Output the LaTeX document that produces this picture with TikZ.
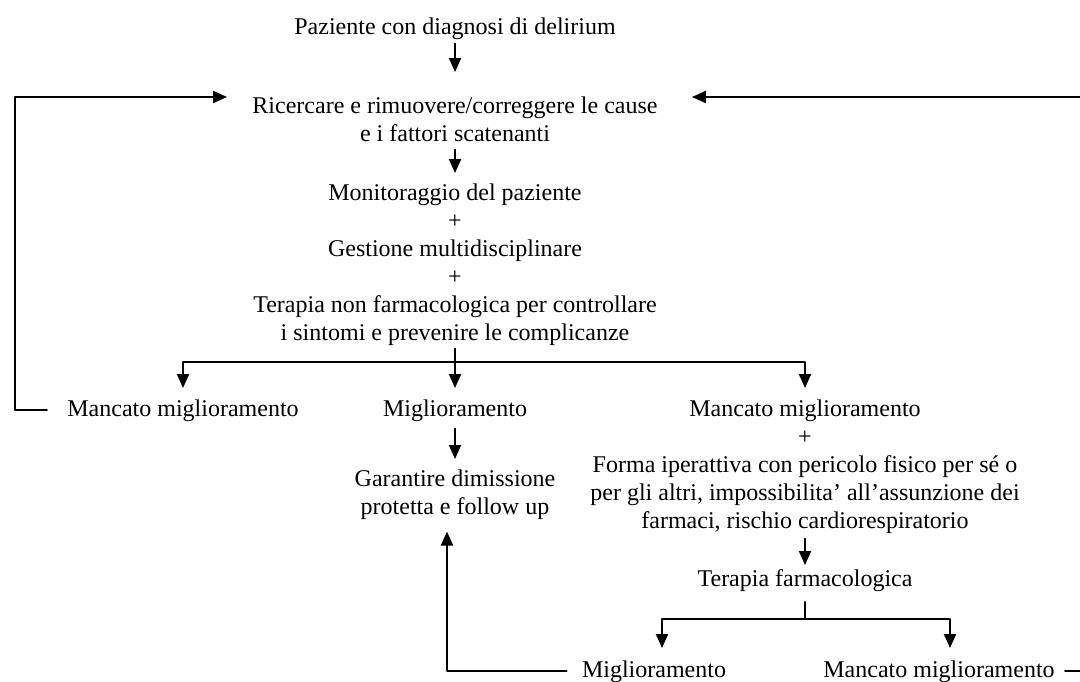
\documentclass[tikz,border=0pt]{standalone}
\usepackage{fontspec}
\setmainfont{Liberation Serif}
\usetikzlibrary{arrows.meta}
\usetikzlibrary{calc}

\begin{document}
\begin{tikzpicture}[x=0.5pt,y=-0.5pt,line cap=round,line join=round,>={Triangle[length=7pt,width=6pt]},
        testo/.style={inner sep=0pt,anchor=north,align=center,font=\fontsize{12}{14}\selectfont},
        linea/.style={line width=1pt},
        freccia/.style={->,line width=1pt}]
        \useasboundingbox (0,0) rectangle (1080,681);
        \node[testo] (paz) at (455,17) {Paziente con diagnosi di delirium};
        \node[testo] (ric) at (455,96) {Ricercare e rimuovere/correggere le cause\\e i fattori scatenanti};
        \node[testo] (mon) at (455,183) {Monitoraggio del paziente\\+\\Gestione multidisciplinare\\+\\Terapia non farmacologica per controllare\\i sintomi e prevenire le complicanze};
        \node[testo] (manc1) at (183,399) {Mancato miglioramento};
        \node[testo] (migl1) at (455,399) {Miglioramento};
        \node[testo] (manc2) at (805,399) {Mancato miglioramento\\+\\Forma iperattiva con pericolo fisico per sé o\\per gli altri, impossibilita’ all’assunzione dei\\farmaci, rischio cardiorespiratorio};
        \node[testo] (gar) at (455,469) {Garantire dimissione\\protetta e follow up};
        \node[testo] (farm) at (805,569) {Terapia farmacologica};
        \node[testo] (migl2) at (654,660) {Miglioramento};
        \node[testo] (manc3) at (939,660) {Mancato miglioramento};
        \coordinate (b1) at (455,362);
        \coordinate (b2) at (805,619);
        \coordinate (sx) at (15,97);
        \coordinate (dx) at (1095,97);
        \draw[freccia,shorten <=2pt,shorten >=12pt] (paz) -- (ric);
        \draw[freccia,shorten <=4pt,shorten >=5pt] (ric) -- (mon);
        \draw[linea,shorten <=1.5pt] (mon) -- (b1);
        \draw[freccia,shorten >=5.5pt] (b1) -| (manc1);
        \draw[freccia,shorten >=5.5pt] (b1) -- (migl1);
        \draw[freccia,shorten >=5.5pt] (b1) -| (manc2);
        \draw[freccia,shorten <=10pt,shorten >=12.5pt] (manc1.west) -| (sx) -- (sx -| ric.west);
        \draw[freccia,shorten <=5pt,shorten >=17pt] (manc3.east) -| (dx) -- (dx -| ric.east);
        \draw[freccia,shorten <=3.5pt,shorten >=5pt] (migl1) -- (gar);
        \draw[freccia,shorten <=2.5pt,shorten >=2pt] (manc2) -- (farm);
        \draw[linea,shorten <=5pt] (farm) -- (b2);
        \draw[freccia,shorten >=6pt] (b2) -| ([xshift=4pt]migl2.north);
        \draw[freccia,shorten >=6pt] (b2) -| ([xshift=5.5pt]manc3.north);
        \draw[freccia,shorten <=7.5pt,shorten >=6pt] (migl2.west) -| ($(gar.south)+(-8,0)$);
\end{tikzpicture}
\end{document}
